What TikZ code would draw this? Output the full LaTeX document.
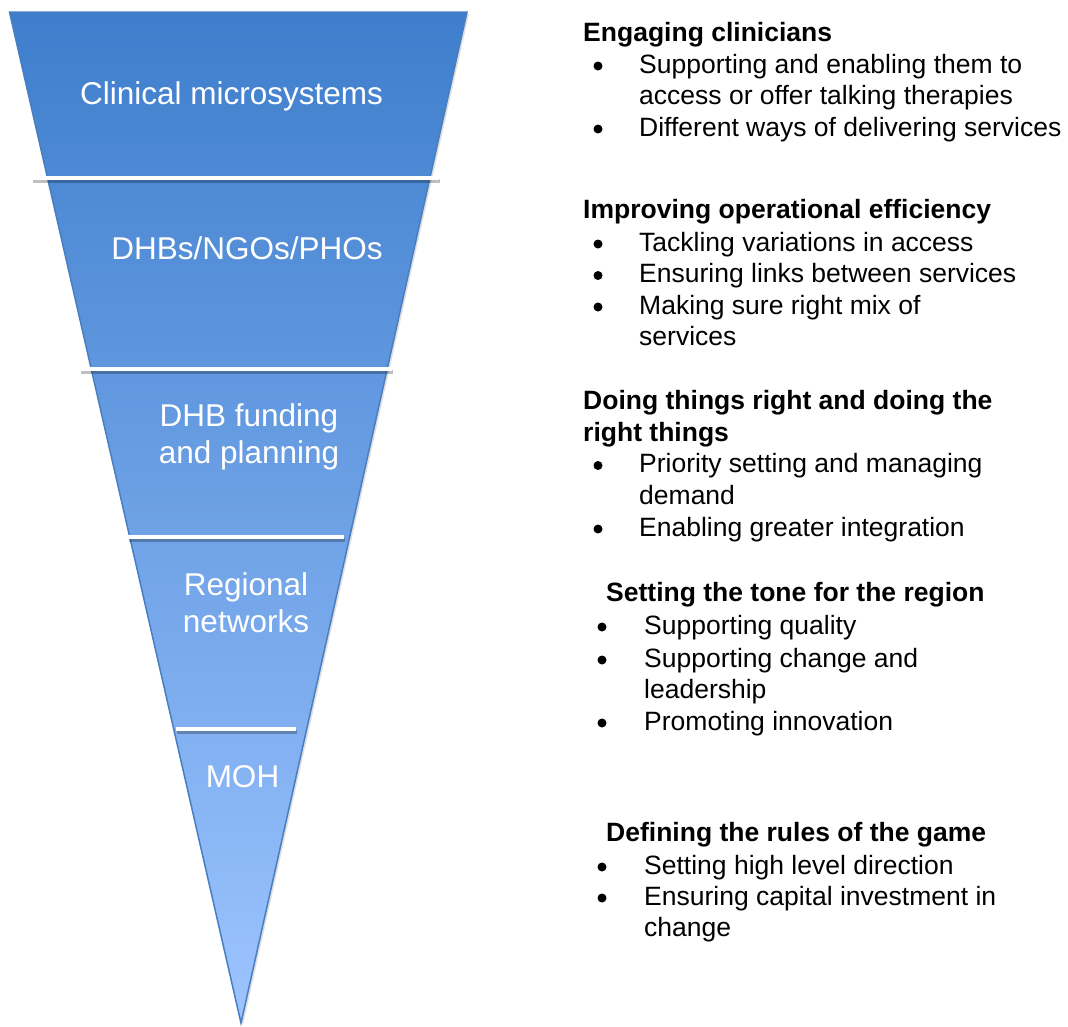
\documentclass[tikz,border=0pt]{standalone}
\usepackage{fontspec}
\setmainfont{Liberation Sans}
\usetikzlibrary{positioning, shadows}

\definecolor{funneltop}{RGB}{62,126,204}
\definecolor{funnelbot}{RGB}{157,196,255}
\definecolor{funnelrim}{RGB}{72,126,194}

\begin{document}
\begin{tikzpicture}[x=1pt, y=-1pt]
    \tikzstyle{tier}=[
        text = white,
        align = center,
        anchor = base,
        inner sep = 0,
        font = \fontsize{31.5}{37}\selectfont
    ]
    \tikzstyle{head}=[anchor=base west, inner sep=0, align=left,
        font=\fontsize{26.5}{31.5}\selectfont\bfseries]
    \tikzstyle{item}=[anchor=base west, inner sep=0, align=left,
        font=\fontsize{26.5}{31.5}\selectfont]
    \tikzstyle{dot}=[circle, fill=black, inner sep=0, minimum size=9pt, yshift=7pt]
    \tikzstyle{rule}=[white, line width=4pt]
    \useasboundingbox (0,0) rectangle (1068,1026);

    \path[drop shadow={opacity=.25, shadow xshift=2pt, shadow yshift=-2pt},
          top color=funneltop, bottom color=funnelbot, draw=funnelrim, line width=1.5pt]
        (9.5,12) -- (467,12) -- (241,1023) -- cycle;
    \foreach \y/\a/\b in {178/32/439, 369/80/392, 537/128/344, 729/176/296} {
        \draw[black, opacity=.25, line width=4pt] (\a+1,\y+3) -- (\b+1,\y+3);
        \draw[rule] (\a,\y) -- (\b,\y);
    }

    % multi-line nodes sit on the baseline of their last line
    \begin{scope}[every node/.style=tier]
      \node (micro) at (231.5,104) {Clinical microsystems};
      \node (dhbs)  at (247,259)   {DHBs/NGOs/PHOs};
      \node (fund)  at (249,463)   {DHB funding\\and planning};
      \node (reg)   at (246,632)   {Regional\\networks};
      \node (moh)   at (242.5,787) {MOH};
    \end{scope}

    \node[head] (h1) at (583,41.5) {Engaging clinicians};
    \node[dot] (d11) at (598,73) {};
    \node[item] (i11) at (639,104.5) {Supporting and enabling them to\\access or offer talking therapies};
    \node[dot] (d12) at (598,136) {};
    \node[item] (i12) at (639,136) {Different ways of delivering services};

    \node[head] (h2) at (583,218) {Improving operational efficiency};
    \node[dot] (d21) at (598,251) {};
    \node[item] (i21) at (639,251) {Tackling variations in access};
    \node[dot] (d22) at (598,282.5) {};
    \node[item] (i22) at (639,282.5) {Ensuring links between services};
    \node[dot] (d23) at (598,314) {};
    \node[item] (i23) at (639,345.5) {Making sure right mix of\\services};

    \node[head] (h3) at (583,441) {Doing things right and doing the\\right things};
    \node[dot] (d31) at (598,472.5) {};
    \node[item] (i31) at (639,504) {Priority setting and managing\\demand};
    \node[dot] (d32) at (598,536) {};
    \node[item] (i32) at (639,536) {Enabling greater integration};

    \node[head] (h4) at (606,601.5) {Setting the tone for the region};
    \node[dot] (d41) at (602,634) {};
    \node[item] (i41) at (644,634) {Supporting quality};
    \node[dot] (d42) at (602,667) {};
    \node[item] (i42) at (644,698.5) {Supporting change and\\leadership};
    \node[dot] (d43) at (602,730) {};
    \node[item] (i43) at (644,730) {Promoting innovation};

    \node[head] (h5) at (606,841.5) {Defining the rules of the game};
    \node[dot] (d51) at (602,874) {};
    \node[item] (i51) at (644,874) {Setting high level direction};
    \node[dot] (d52) at (602,905) {};
    \node[item] (i52) at (644,936.5) {Ensuring capital investment in\\change};
\end{tikzpicture}
\end{document}
